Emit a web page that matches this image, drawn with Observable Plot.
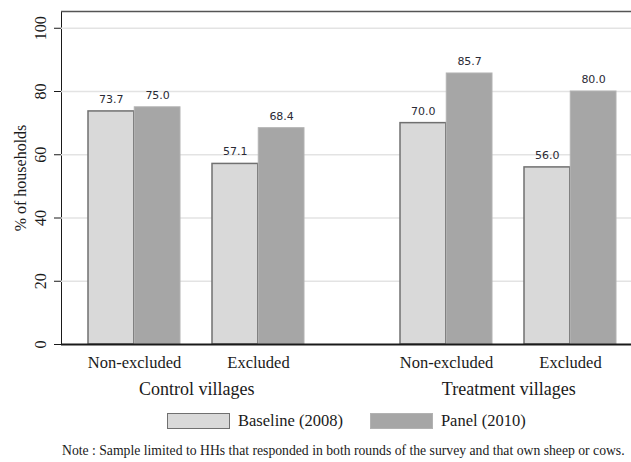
<!DOCTYPE html>
<html>
<head>
<meta charset="utf-8">
<script src="https://cdn.jsdelivr.net/npm/d3@7"></script>
<script src="https://cdn.jsdelivr.net/npm/@observablehq/plot@0.6"></script>
<style>
  html, body { margin: 0; padding: 0; background: #fff; }
  body { width: 631px; height: 462px; overflow: hidden; position: relative; font-family: "Liberation Serif", "Times New Roman", serif; }
  #chart { position: absolute; left: 0; top: 0; width: 700px; }
  #legend { position: absolute; left: 167px; top: 411px; display: flex; align-items: center; font-size: 16.5px; color: #1a1a1a; white-space: nowrap; }
  .sw { width: 61px; height: 14px; box-sizing: content-box; }
  .lab { margin-left: 8px; }
  #note { position: absolute; left: 62px; top: 443px; font-size: 13.7px; color: #1a1a1a; white-space: nowrap; }
</style>
</head>
<body>
<div id="chart"></div>
<div id="legend"></div>
<div id="note"></div>
<script>
// ---- data ----
const villages = ["Control villages", "Treatment villages"];
const categories = ["Non-excluded", "Excluded"];
const seriesNames = ["Baseline (2008)", "Panel (2010)"];
// order: Control/Non-excluded, Control/Excluded, Treatment/Non-excluded, Treatment/Excluded
const baseline2008 = [73.7, 57.1, 70.0, 56.0];
const panel2010 = [75.0, 68.4, 85.7, 80.0];
const yTicks = [0, 20, 40, 60, 80, 100];
const gridTicks = [20, 40, 60, 80, 100];
const yLabel = "% of households";
const noteText = "Note : Sample limited to HHs that responded in both rounds of the survey and that own sheep or cows.";

// ---- table built from arrays ----
const rows = villages.flatMap((v, i) => categories.map((c, j) => ({
  village: v, category: c,
  baseline: baseline2008[i * categories.length + j],
  panel: panel2010[i * categories.length + j]
})));

// ---- layout ----
const width = 685, height = 400;
const marginLeft = 61, marginRight = 0, marginTop = 11, marginBottom = 56;
const yTop = 105.3;
const pi = 0.257, po = 0.3815, align = 0.277;
const facetW = (width - marginLeft - marginRight) / villages.length;
const step = facetW / (categories.length - pi + 2 * po);
const bw = step * (1 - pi);
const half = bw / 2;

const baseFill = "#d9d9d9", baseStroke = "#707070";
const panelFill = "#a6a6a6", panelStroke = "#b2b2b2";

const chart = Plot.plot({
  width, height, marginLeft, marginRight, marginTop, marginBottom,
  style: { fontFamily: "Liberation Serif, Times New Roman, serif", fontSize: "16px", color: "#1a1a1a", background: "#fff", maxWidth: "none" },
  facet: { data: rows, x: "village" },
  fx: { domain: villages, padding: 0, axis: null, label: null },
  x: { domain: categories, paddingInner: pi, paddingOuter: po, align, axis: null, label: null },
  y: { domain: [0, yTop], ticks: yTicks, tickSize: 7, tickPadding: 9, tickRotate: -90, line: true, label: null },
  marks: [
    Plot.ruleY(gridTicks, { stroke: "#e3e3e3", strokeWidth: 1.5 }),
    Plot.ruleY([yTop], { stroke: "#555", strokeWidth: 1.5 }),
    Plot.barY(rows, { x: "category", y: "baseline", insetRight: half, fill: baseFill, stroke: baseStroke, strokeWidth: 1.5 }),
    Plot.barY(rows, { x: "category", y: "panel", insetLeft: half, fill: panelFill, stroke: panelStroke, strokeWidth: 1 }),
    Plot.ruleY([0], { stroke: "#1a1a1a", strokeWidth: 2 }),
    Plot.text(rows, { x: "category", y: "baseline", text: d => d.baseline.toFixed(1), dx: -half / 2, dy: -12,
      fontFamily: "DejaVu Sans, Verdana, sans-serif", fontSize: 11, fill: "#2a2a35" }),
    Plot.text(rows, { x: "category", y: "panel", text: d => d.panel.toFixed(1), dx: half / 2, dy: -12,
      fontFamily: "DejaVu Sans, Verdana, sans-serif", fontSize: 11, fill: "#2a2a35" }),
    Plot.text(rows, { x: "category", text: "category", frameAnchor: "bottom", textAnchor: "middle", lineAnchor: "middle",
      dy: 18, fontSize: 16.5, fill: "#1a1a1a" }),
    Plot.text(rows, { filter: d => d.category === categories[0], x: "category", text: "village", frameAnchor: "bottom",
      textAnchor: "middle", lineAnchor: "middle", dx: step / 2, dy: 45, fontSize: 18, fill: "#1a1a1a" }),
    Plot.text(rows, { filter: d => d === rows[0], frameAnchor: "left", textAnchor: "middle", lineAnchor: "middle",
      text: () => yLabel, rotate: -90, dx: -41, fontSize: 16, fill: "#1a1a1a" })
  ]
});
document.getElementById("chart").appendChild(chart);

// ---- legend ----
const legend = document.getElementById("legend");
const swatches = [
  { name: seriesNames[0], fill: baseFill, border: `1.5px solid ${baseStroke}` },
  { name: seriesNames[1], fill: panelFill, border: `1px solid ${panelStroke}` }
];
swatches.forEach((s, i) => {
  const sw = document.createElement("span");
  sw.className = "sw";
  sw.style.background = s.fill;
  sw.style.border = s.border;
  if (i > 0) sw.style.marginLeft = "27px";
  const lab = document.createElement("span");
  lab.className = "lab";
  lab.textContent = s.name;
  legend.appendChild(sw);
  legend.appendChild(lab);
});
document.getElementById("note").textContent = noteText;
</script>
</body>
</html>
